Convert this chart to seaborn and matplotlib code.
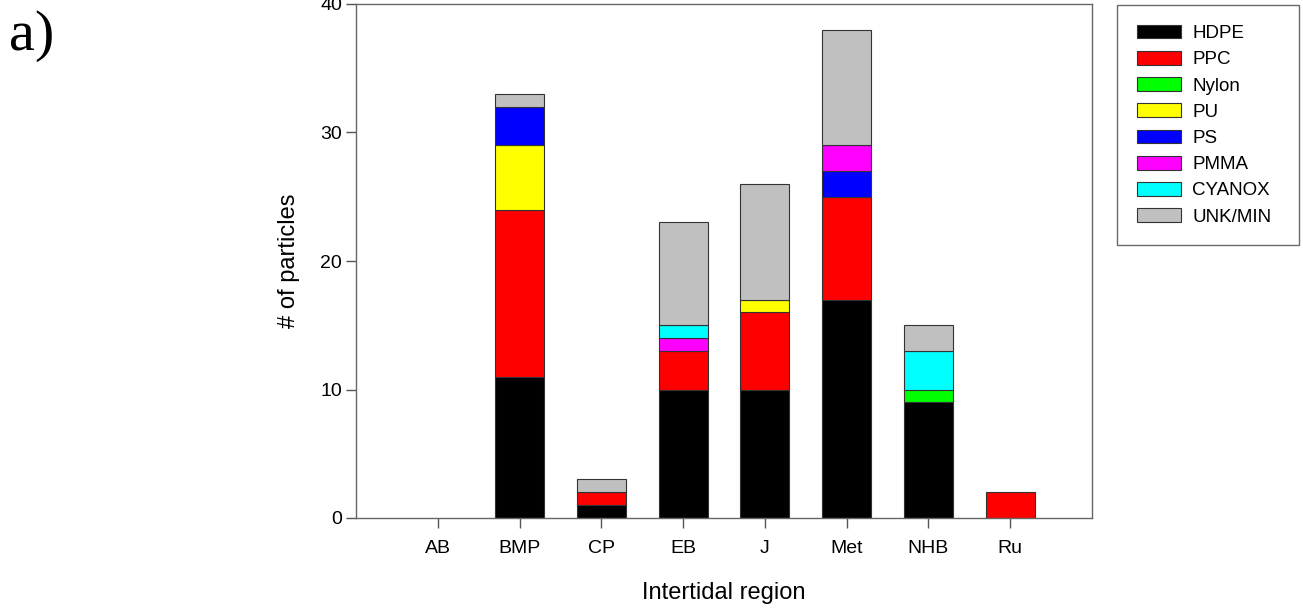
import seaborn as sns
import matplotlib.pyplot as plt
import pandas as pd
import numpy as np

sns.set_style("ticks")
plt.rcParams['font.family'] = ['Liberation Sans', 'DejaVu Sans']
plt.rcParams['text.color'] = 'black'
plt.rcParams['axes.labelcolor'] = 'black'

# Data
regions = ["AB", "BMP", "CP", "EB", "J", "Met", "NHB", "Ru"]
polymers = ["HDPE", "PPC", "Nylon", "PU", "PS", "PMMA", "CYANOX", "UNK/MIN"]
hdpe = [0, 11, 1, 10, 10, 17, 9, 0]
ppc = [0, 13, 1, 3, 6, 8, 0, 2]
nylon = [0, 0, 0, 0, 0, 0, 1, 0]
pu = [0, 5, 0, 0, 1, 0, 0, 0]
ps = [0, 3, 0, 0, 0, 2, 0, 0]
pmma = [0, 0, 0, 1, 0, 2, 0, 0]
cyanox = [0, 0, 0, 1, 0, 0, 3, 0]
unk_min = [0, 1, 1, 8, 9, 9, 2, 0]
colors = ["#000000", "#ff0000", "#00ff00", "#ffff00",
          "#0000ff", "#ff00ff", "#00ffff", "#c0c0c0"]

df = pd.DataFrame({"region": regions, "HDPE": hdpe, "PPC": ppc, "Nylon": nylon,
                   "PU": pu, "PS": ps, "PMMA": pmma, "CYANOX": cyanox,
                   "UNK/MIN": unk_min})

fig = plt.figure(figsize=(13.03, 6.10), dpi=100)
ax = fig.add_axes([356 / 1303, 1 - 518 / 610, 736 / 1303, 514 / 610])

# stacked bars, one seaborn call per polymer
bottom = np.zeros(len(regions))
handles = []
for name, col in zip(polymers, colors):
    sns.barplot(data=df, x="region", y=name, order=regions, color=col,
                saturation=1, width=0.6, errorbar=None, bottom=bottom,
                edgecolor="#333333", linewidth=0.8, ax=ax)
    handles.append(plt.Rectangle((0, 0), 1, 1, facecolor=col,
                                 edgecolor="#333333", linewidth=0.8))
    bottom = bottom + df[name].values

# hide outlines of empty segments
for p in ax.patches:
    if p.get_height() == 0:
        p.set_linewidth(0)

ax.set_xlim(-1, 8)
ax.set_ylim(0, 40)
ax.set_yticks([0, 10, 20, 30, 40])

for s in ax.spines.values():
    s.set_visible(True)
    s.set_color("#666666")
    s.set_linewidth(1.0)

ax.tick_params(axis="x", length=7, width=1.0, color="#555555",
               labelcolor="black", labelsize=14, pad=9)
ax.tick_params(axis="y", length=7, width=1.0, color="#555555",
               labelcolor="black", labelsize=14, pad=3)

ax.set_xlabel("Intertidal region", fontsize=17, va="top")
ax.xaxis.set_label_coords(0.5, -0.125)
ax.set_ylabel("# of particles", fontsize=17)
ax.yaxis.set_label_coords(-0.076, 0.5)

leg = fig.legend(handles, polymers, loc="upper left",
                 bbox_to_anchor=(1117 / 1303, 1 - 246 / 610, 182 / 1303, 241 / 610),
                 mode="expand", fontsize=13.5, frameon=True, fancybox=False,
                 borderpad=1.05, labelspacing=0.47, handlelength=2.35,
                 handleheight=0.75, handletextpad=0.6, borderaxespad=0)
leg.get_frame().set_edgecolor("#444444")
leg.get_frame().set_linewidth(1.0)

fig.text(0.007, 1 - 50 / 610, "a)", fontsize=42,
         family=["Liberation Serif", "DejaVu Serif"], va="baseline")

plt.savefig("out.png", dpi=100)
plt.close()
